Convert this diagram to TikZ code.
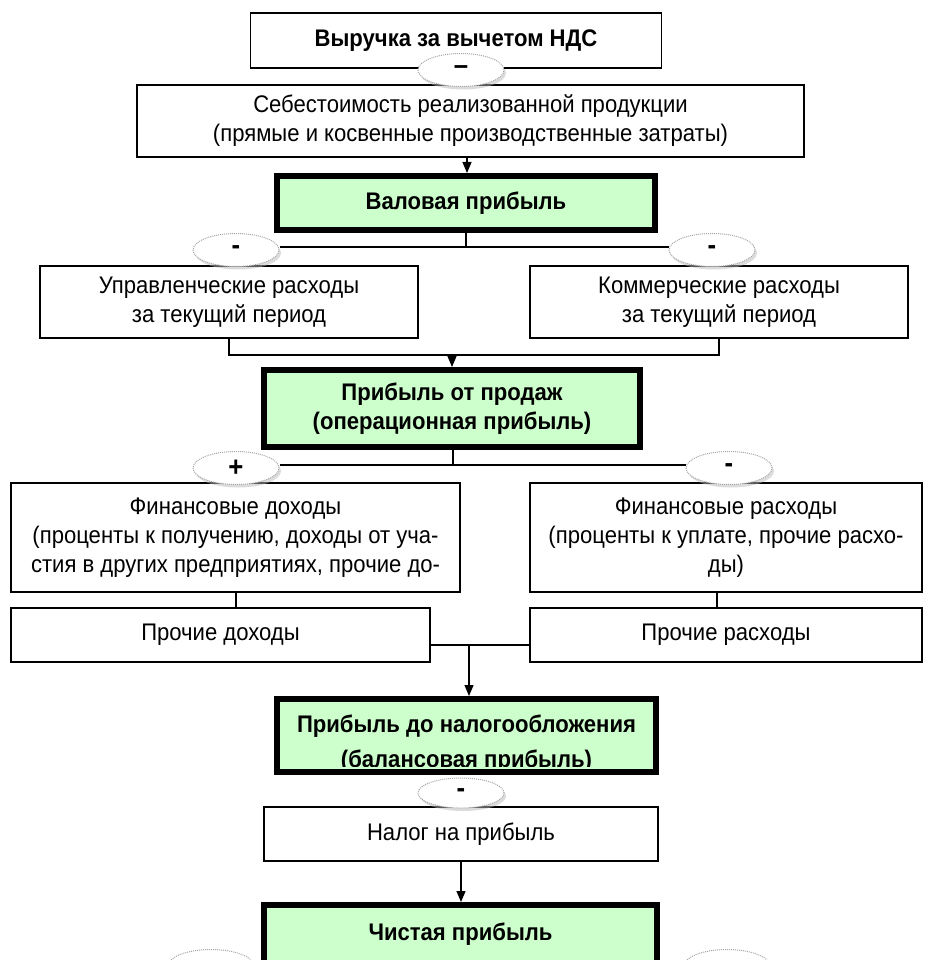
\documentclass[tikz,border=0pt]{standalone}
\usepackage{fontspec}
\setmainfont{Liberation Sans}[FakeStretch=0.92]
\usetikzlibrary{shapes.geometric,shadows,arrows.meta}

\definecolor{lightgreen}{RGB}{204,255,204}

\begin{document}
\begin{tikzpicture}[x=1pt,y=-1pt,
	every node/.style={black},
	box/.style={draw,line width=1.2pt,fill=white,inner sep=0pt,align=center,
		font=\fontsize{24}{29}\selectfont},
	profit/.style={draw,line width=6pt,fill=lightgreen,inner sep=0pt,align=center,
		font=\fontsize{24}{29}\selectfont\bfseries},
	sign/.style={ellipse,draw=gray!70,densely dotted,line width=1pt,fill=white,
		minimum width=86pt,minimum height=33pt,inner sep=0pt,
		drop shadow={shadow xshift=2pt,shadow yshift=-3pt,fill=gray!55},
		font=\fontsize{28}{28}\selectfont\bfseries},
	link/.style={line width=1.2pt},
	arr/.style={line width=1.2pt,-{Triangle[length=11pt,width=9pt]}}]

	\useasboundingbox (0,0) rectangle (925,960);
	\clip (0,0) rectangle (925,960);

	\node[box,font=\fontsize{24}{29}\selectfont\bfseries,minimum width=411pt,minimum height=55pt]
		(rev) at (456,40.5) {Выручка за вычетом НДС};
	\node[box,minimum width=667pt,minimum height=72pt] (cost) at (470.5,121)
		{Себестоимость реализованной продукции\\(прямые и косвенные производственные затраты)};
	\node[sign] (s0) at (461,70) {\raisebox{-4pt}{--}};

	\node[profit,minimum width=378pt,minimum height=54pt] (gross) at (466,203) {Валовая прибыль};
	\draw[arr] (cost.south -| 467,0) -- (gross.north -| 467,0);

	\node[box,minimum width=378pt,minimum height=72pt] (admin) at (229,302)
		{Управленческие расходы\\за текущий период};
	\node[box,minimum width=378pt,minimum height=72pt] (comm) at (719,302)
		{Коммерческие расходы\\за текущий период};
	\node[sign] (s1) at (236,250) {\raisebox{-3pt}{-}};
	\node[sign] (s2) at (712,250) {\raisebox{-3pt}{-}};
	\coordinate (j1) at (466,247);
	\draw[link] (gross.south -| j1) -- (j1);
	\draw[link] (s1.east |- j1) -- (s2.west |- j1);

	\node[profit,minimum width=376pt,minimum height=77pt] (sales) at (452,408.5)
		{Прибыль от продаж\\(операционная прибыль)};
	\coordinate (j2) at (452,355);
	\draw[link] (admin.south) -- (admin.south |- j2) -- (comm.south |- j2) -- (comm.south);
	\draw[arr] (j2) -- (sales.north);

	\node[box,minimum width=449pt,minimum height=109pt] (finin) at (235.5,537.5)
		{Финансовые доходы\\(проценты к получению, доходы от уча-\\стия в других предприятиях, прочие до-};
	\node[box,minimum width=392pt,minimum height=109pt] (finout) at (726,537.5)
		{Финансовые расходы\\(проценты к уплате, прочие расхо-\\ды)};
	\node[sign] (s3) at (236,468) {+};
	\node[sign] (s4) at (729,468) {\raisebox{-3pt}{-}};
	\coordinate (j3) at (453,465);
	\draw[link] (sales.south -| j3) -- (j3);
	\draw[link] (s3.east |- j3) -- (s4.west |- j3);

	\node[box,minimum width=419pt,minimum height=54pt] (othin) at (220.5,635) {Прочие доходы};
	\node[box,minimum width=392pt,minimum height=54pt] (othout) at (726,635) {Прочие расходы};
	\draw[link] (finin.south -| 236,0) -- (othin.north -| 236,0);
	\draw[link] (finout.south -| 717,0) -- (othout.north -| 717,0);

	\node[profit,minimum width=379pt,minimum height=73pt] (pretax) at (466.5,735.5) {};
	\coordinate (j4) at (469,645);
	\draw[link] (othin.east |- j4) -- (othout.west |- j4);
	\draw[arr] (j4) -- (pretax.north -| j4);
	\begin{scope}
		\clip (280,702) rectangle (653,766);
		\node[font=\fontsize{24}{29}\selectfont\bfseries,align=center] (pretaxtext) at (466.5,744)
			{Прибыль до налогообложения\\[6pt](балансовая прибыль)};
	\end{scope}

	\node[box,minimum width=394pt,minimum height=54pt] (tax) at (461,834) {Налог на прибыль};
	\node[sign,minimum height=30pt] (s5) at (461,793) {\raisebox{-2pt}{-}};

	\node[profit,minimum width=393pt,minimum height=58pt] (net) at (460.5,934) {Чистая прибыль};
	\draw[arr] (tax.south) -- (net.north -| tax.south);

	% cut by the lower edge
	\node[sign] (s6) at (211,966) {};
	\node[sign] (s7) at (727,966) {};
\end{tikzpicture}
\end{document}
